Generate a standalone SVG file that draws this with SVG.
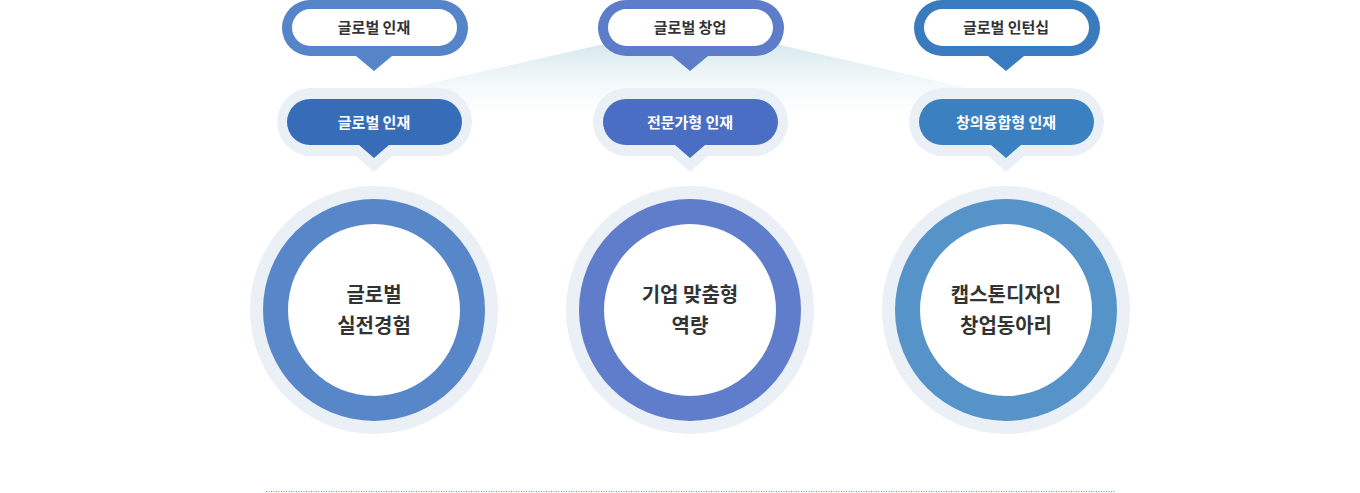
<svg xmlns="http://www.w3.org/2000/svg" width="1360" height="493" viewBox="0 0 1360 493">
<defs>
<linearGradient id="fan" x1="0" y1="0" x2="0" y2="1"><stop offset="0" stop-color="#d6e9ee"/><stop offset="1" stop-color="#ffffff" stop-opacity="0"/></linearGradient>
<style>
text{font-family:"Noto Sans CJK KR",sans-serif;font-weight:700;text-anchor:middle}
.t1{font-size:15px;fill:#333}
.t2{font-size:15px;fill:#fff}
.t3{font-size:20px;fill:#333}
.halo{fill:#ebf0f6}
</style>
</defs>
<rect width="1360" height="493" fill="#fff"/>
<polygon points="400,90 600,45 780,45 985,92 985,130 400,130" fill="url(#fan)"/>
<g id="connectors"><line x1="266" y1="491.5" x2="1115" y2="491.5" stroke="#5a9bd5" stroke-dasharray="1,1.5"/></g>
<g id="n1">
<path d="M310,0 H440 a28,28 0 0 1 0,56 H392 L374,71 L356,56 H310 a28,28 0 0 1 0,-56Z" fill="#5585c8"/>
<rect x="292" y="9" width="165" height="37" rx="18.5" fill="#fff"/>
<text class="t1" x="374" y="33">글로벌 인재</text>
<path d="M311,88 H438 a34,34 0 0 1 0,68 H392 L374,172 L356,156 H311 a34,34 0 0 1 0,-68Z" class="halo"/>
<path d="M310,99 H439 a23,23 0 0 1 0,46 H389 L374,158 L359,145 H310 a23,23 0 0 1 0,-46Z" fill="#376db8"/>
<text class="t2" x="374" y="128">글로벌 인재</text>
<circle cx="374" cy="310" r="124" class="halo"/><circle cx="374" cy="310" r="111" fill="#5787c8"/><circle cx="374" cy="310" r="86" fill="#fff"/>
<text class="t3" x="374" y="302">글로벌</text><text class="t3" x="374" y="333">실전경험</text>
</g>
<g id="n2">
<path d="M626,0 H756 a28,28 0 0 1 0,56 H708 L690,71 L672,56 H626 a28,28 0 0 1 0,-56Z" fill="#5d7cc9"/>
<rect x="608" y="9" width="165" height="37" rx="18.5" fill="#fff"/>
<text class="t1" x="690" y="33">글로벌 창업</text>
<path d="M627,88 H754 a34,34 0 0 1 0,68 H708 L690,172 L672,156 H627 a34,34 0 0 1 0,-68Z" class="halo"/>
<path d="M626,99 H755 a23,23 0 0 1 0,46 H705 L690,158 L675,145 H626 a23,23 0 0 1 0,-46Z" fill="#4a6ec4"/>
<text class="t2" x="690" y="128">전문가형 인재</text>
<circle cx="690" cy="310" r="124" class="halo"/><circle cx="690" cy="310" r="111" fill="#5f7dca"/><circle cx="690" cy="310" r="86" fill="#fff"/>
<text class="t3" x="690" y="302">기업 맞춤형</text><text class="t3" x="690" y="333">역량</text>
</g>
<g id="n3">
<path d="M942,0 H1072 a28,28 0 0 1 0,56 H1024 L1006,71 L988,56 H942 a28,28 0 0 1 0,-56Z" fill="#3a7bbf"/>
<rect x="924" y="9" width="165" height="37" rx="18.5" fill="#fff"/>
<text class="t1" x="1006" y="33">글로벌 인턴십</text>
<path d="M943,88 H1070 a34,34 0 0 1 0,68 H1024 L1006,172 L988,156 H943 a34,34 0 0 1 0,-68Z" class="halo"/>
<path d="M942,99 H1071 a23,23 0 0 1 0,46 H1021 L1006,158 L991,145 H942 a23,23 0 0 1 0,-46Z" fill="#3b80c0"/>
<text class="t2" x="1006" y="128">창의융합형 인재</text>
<circle cx="1006" cy="310" r="124" class="halo"/><circle cx="1006" cy="310" r="111" fill="#5593c8"/><circle cx="1006" cy="310" r="86" fill="#fff"/>
<text class="t3" x="1006" y="302">캡스톤디자인</text><text class="t3" x="1006" y="333">창업동아리</text>
</g>
</svg>
